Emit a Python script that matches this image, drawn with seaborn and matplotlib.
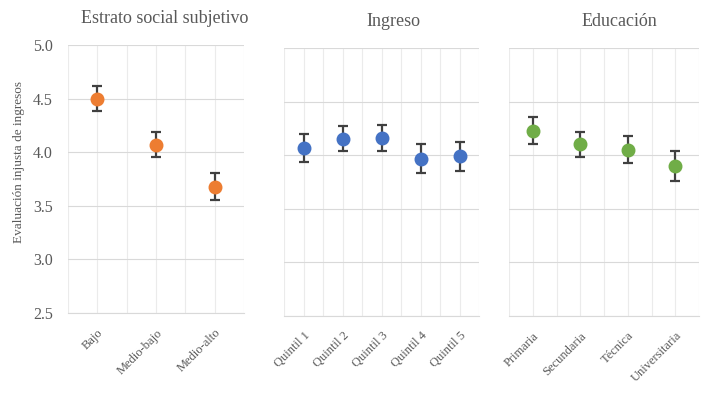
import numpy as np
import pandas as pd
import matplotlib
matplotlib.use("Agg")
import matplotlib.pyplot as plt
import seaborn as sns

sns.set_style("whitegrid")
plt.rcParams["font.family"] = ["Liberation Serif", "DejaVu Serif"]

# data
estrato_cat = ["Bajo", "Medio-bajo", "Medio-alto"]
estrato_val = [4.50, 4.07, 3.68]
estrato_err = [0.12, 0.115, 0.125]

ingreso_cat = ["Quintil 1", "Quintil 2", "Quintil 3", "Quintil 4", "Quintil 5"]
ingreso_val = [4.07, 4.155, 4.16, 3.965, 3.99]
ingreso_err = [0.13, 0.115, 0.125, 0.135, 0.135]

educ_cat = ["Primaria", "Secundaria", "Técnica", "Universitaria"]
educ_val = [4.23, 4.10, 4.05, 3.895]
educ_err = [0.125, 0.115, 0.125, 0.14]

panels = [
    ("Estrato social subjetivo", estrato_cat, estrato_val, estrato_err, "#ED7D31"),
    ("Ingreso", ingreso_cat, ingreso_val, ingreso_err, "#4472C4"),
    ("Educación", educ_cat, educ_val, educ_err, "#70AD47"),
]

W, H = 711, 395
# axes boxes in pixels: left, top, right, bottom
boxes = [(68, 45, 244, 313), (284, 48, 479, 316), (509, 48, 699, 316)]
title_x = [0.55, 0.56, 0.58]

fig = plt.figure(figsize=(W / 100, H / 100), dpi=100)
text_col = "#595959"

for i, ((title, cats, vals, errs, col), (l, t, r, b)) in enumerate(zip(panels, boxes)):
    ax = fig.add_axes([l / W, 1 - b / H, (r - l) / W, (b - t) / H])
    df = pd.DataFrame({"cat": cats, "val": vals})
    x = np.arange(len(cats))
    ax.errorbar(x, vals, yerr=errs, fmt="none", ecolor="#404040",
                elinewidth=1.6, capsize=3.8, capthick=1.6, zorder=2)
    sns.pointplot(data=df, x="cat", y="val", color=col, linestyle="none",
                  errorbar=None, markers="o", markersize=8, ax=ax, zorder=3)
    ax.set_ylim(2.5, 5.0)
    ax.set_yticks([2.5, 3.0, 3.5, 4.0, 4.5, 5.0])
    ax.set_xlim(-0.5, len(cats) - 0.5)
    ax.set_xticks(x)
    ax.set_xticks(np.arange(len(cats) + 1) - 0.5, minor=True)
    ax.set_xticklabels(cats, rotation=45, ha="right", rotation_mode="anchor",
                       fontsize=9, color=text_col)
    ax.grid(True, which="both", axis="x", color="#EBEBEB", linewidth=0.8)
    ax.grid(True, axis="y", color="#D9D9D9", linewidth=0.8)
    ax.tick_params(axis="both", which="both", length=0)
    ax.tick_params(axis="x", pad=10)
    ax.tick_params(axis="y", pad=11)
    if i == 0:
        ax.set_yticklabels(["2.5", "3.0", "3.5", "4.0", "4.5", "5.0"],
                           fontsize=11.5, color=text_col)
    else:
        ax.set_yticklabels([])
    for s in ["top", "right", "left"]:
        ax.spines[s].set_visible(False)
    ax.spines["bottom"].set_color("#D9D9D9")
    ax.set_xlabel("")
    ax.set_ylabel("")
    ax.text(title_x[i], 1 + 22 / (b - t), title, transform=ax.transAxes,
            ha="center", va="baseline", fontsize=13, color=text_col)

fig.text(19 / W, 1 - 162 / H, "Evaluación injusta de ingresos", rotation=90,
         ha="center", va="center", fontsize=9.5, color=text_col)

fig.savefig("out.png", dpi=100)
